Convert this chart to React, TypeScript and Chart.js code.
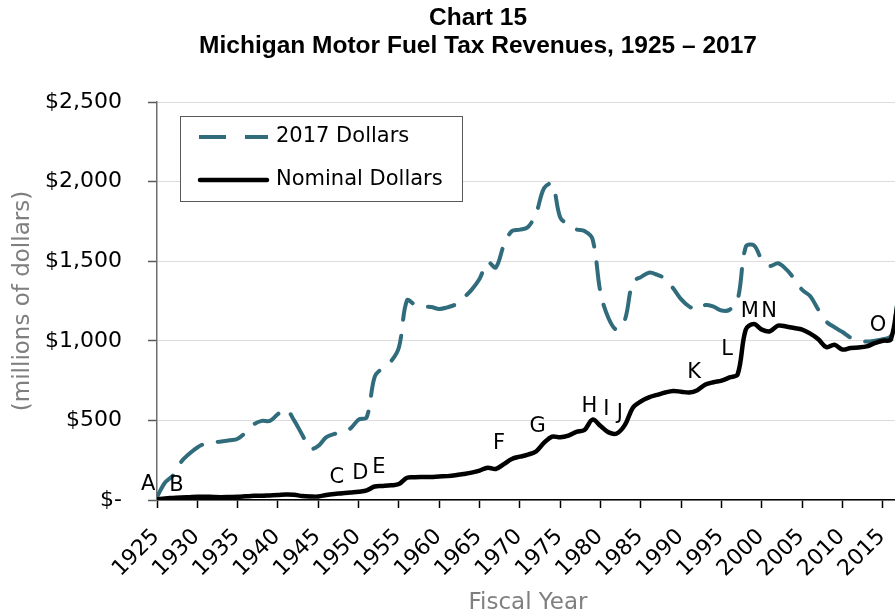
import React, { useEffect, useRef } from 'react';
import { Chart, registerables } from 'chart.js';

Chart.register(...registerables);

// ---------- data ----------
const years = [
  1925, 1926, 1927, 1928, 1929, 1930, 1931, 1932, 1933, 1934,
  1935, 1936, 1937, 1938, 1939, 1940, 1941, 1942, 1943, 1944,
  1945, 1946, 1947, 1948, 1949, 1950, 1951, 1952, 1953, 1954,
  1955, 1956, 1957, 1958, 1959, 1960, 1961, 1962, 1963, 1964,
  1965, 1966, 1967, 1968, 1969, 1970, 1971, 1972, 1973, 1974,
  1975, 1976, 1977, 1978, 1979, 1980, 1981, 1982, 1983, 1984,
  1985, 1986, 1987, 1988, 1989, 1990, 1991, 1992, 1993, 1994,
  1995, 1996, 1997, 1998, 1999, 2000, 2001, 2002, 2003, 2004,
  2005, 2006, 2007, 2008, 2009, 2010, 2011, 2012, 2013, 2014,
  2015, 2016, 2017,
];

// Nominal dollars (millions)
const nominalDollars = [
  5, 10, 13, 16, 18, 20, 21, 19, 18, 19,
  20, 23, 26, 27, 29, 31, 35, 33, 25, 22,
  22, 32, 38, 42, 47, 52, 60, 85, 88, 92,
  100, 140, 143, 144, 145, 148, 150, 155, 163, 172,
  185, 203, 195, 225, 258, 272, 285, 305, 360, 398,
  394, 405, 428, 440, 505, 465, 425, 418, 470, 580,
  620, 645, 660, 675, 685, 680, 675, 690, 725, 740,
  750, 770, 790, 1070, 1105, 1070, 1060, 1095, 1090, 1080,
  1070, 1045, 1010, 960, 975, 945, 955, 958, 965, 985,
  1000, 1010, 1300,
];

// 2017 dollars (millions)
const dollars2017 = [
  20, 110, 155, 240, 290, 330, 355, 362, 368, 375,
  385, 425, 475, 497, 497, 540, 570, 500, 410, 322,
  340, 395, 415, 425, 450, 505, 520, 775, 830, 870,
  960, 1255, 1225, 1215, 1212, 1200, 1210, 1228, 1270, 1320,
  1390, 1495, 1460, 1600, 1690, 1698, 1715, 1800, 1960, 1985,
  1775, 1730, 1700, 1690, 1640, 1300, 1140, 1070, 1130, 1370,
  1400, 1428, 1415, 1390, 1330, 1260, 1215, 1195, 1225, 1214,
  1190, 1195, 1260, 1590, 1600, 1510, 1470, 1487, 1450, 1390,
  1320, 1280, 1195, 1120, 1085, 1055, 1020, 1005, 995, 1000,
  1010, 1030, 1300,
];

const xTickYears = [
  1925, 1930, 1935, 1940, 1945, 1950, 1955, 1960, 1965, 1970,
  1975, 1980, 1985, 1990, 1995, 2000, 2005, 2010, 2015,
];
const yTickValues = [0, 500, 1000, 1500, 2000, 2500];

// Event markers (letter, year, value in millions)
const markerLabels = ['A', 'B', 'C', 'D', 'E', 'F', 'G', 'H', 'I', 'J', 'K', 'L', 'M', 'N', 'O'];
const markerYears = [1923.9, 1927.4, 1947.3, 1950.2, 1952.5, 1967.4, 1972.2, 1978.6, 1980.7, 1982.4, 1991.6, 1995.7, 1998.5, 2000.9, 2014.4];
const markerValues = [100, 88, 142, 168, 205, 352, 460, 586, 570, 545, 802, 946, 1183, 1183, 1095];

const titleLines = ['Chart 15', 'Michigan Motor Fuel Tax Revenues, 1925 \u2013 2017'];
const seriesNames = ['2017 Dollars', 'Nominal Dollars'];

const TEAL = '#306c7c';
const CANVAS_W = 956;
const CANVAS_H = 625;

const fmtMoney = (v: number) => (v === 0 ? '$-' : '$' + v.toLocaleString('en-US'));

const overlayPlugin = {
  id: 'overlay',
  afterDraw(chart: any) {
    const { ctx, chartArea, scales } = chart;
    ctx.save();

    // Title
    ctx.fillStyle = '#000';
    ctx.textAlign = 'center';
    ctx.textBaseline = 'alphabetic';
    ctx.font = 'bold 24.5px "Liberation Sans", Arial, sans-serif';
    titleLines.forEach((t, i) => ctx.fillText(t, chart.width / 2, 25 + i * 28));

    // Event letters
    ctx.font = '21px "DejaVu Sans", sans-serif';
    ctx.textBaseline = 'middle';
    markerLabels.forEach((l, i) => {
      ctx.fillText(l, scales.x.getPixelForValue(markerYears[i]), scales.y.getPixelForValue(markerValues[i]));
    });

    // Legend
    const lx = chartArea.left + 23;
    const ly = chartArea.top + 14;
    const lw = 282;
    const lh = 85;
    ctx.fillStyle = '#fff';
    ctx.fillRect(lx, ly, lw, lh);
    ctx.strokeStyle = '#595959';
    ctx.lineWidth = 1;
    ctx.strokeRect(lx + 0.5, ly + 0.5, lw, lh);

    const rows = [ly + 21, ly + 64];
    // dashed sample
    ctx.lineWidth = 4;
    ctx.lineCap = 'butt';
    ctx.strokeStyle = TEAL;
    ctx.setLineDash([27, 19]);
    ctx.beginPath();
    ctx.moveTo(lx + 19, rows[0]);
    ctx.lineTo(lx + 88, rows[0]);
    ctx.stroke();
    // solid sample
    ctx.setLineDash([]);
    ctx.strokeStyle = '#000';
    ctx.lineWidth = 4.5;
    ctx.lineCap = 'round';
    ctx.beginPath();
    ctx.moveTo(lx + 20, rows[1]);
    ctx.lineTo(lx + 87, rows[1]);
    ctx.stroke();

    ctx.fillStyle = '#000';
    ctx.textAlign = 'left';
    ctx.textBaseline = 'middle';
    ctx.font = '21px "DejaVu Sans", sans-serif';
    ctx.fillText(seriesNames[0], lx + 96, rows[0]);
    ctx.fillText(seriesNames[1], lx + 96, rows[1]);

    ctx.restore();
  },
};

export default function App() {
  const ref = useRef<HTMLCanvasElement>(null);

  useEffect(() => {
    Chart.defaults.font.family = '"DejaVu Sans", sans-serif';
    Chart.defaults.color = '#000';
    const chart = new Chart(ref.current as HTMLCanvasElement, {
      type: 'line',
      data: {
        datasets: [
          {
            label: seriesNames[1],
            data: years.map((y, i) => ({ x: y, y: nominalDollars[i] })),
            borderColor: '#000',
            borderWidth: 4.5,
            pointRadius: 0,
            tension: 0.35,
            fill: false,
            order: 0,
            borderCapStyle: 'round',
            borderJoinStyle: 'round',
          },
          {
            label: seriesNames[0],
            data: years.map((y, i) => ({ x: y, y: dollars2017[i] })),
            borderColor: TEAL,
            borderWidth: 4,
            borderDash: [27, 16],
            borderCapStyle: 'round',
            borderJoinStyle: 'round',
            pointRadius: 0,
            tension: 0.35,
            fill: false,
            order: 1,
          },
        ],
      },
      options: {
        responsive: false,
        animation: false,
        devicePixelRatio: 1,
        layout: { padding: { top: 102, right: CANVAS_W - 899, left: 0, bottom: 0 } },
        plugins: {
          legend: { display: false },
          tooltip: { enabled: false },
          title: { display: false },
        },
        scales: {
          x: {
            type: 'linear',
            min: years[0],
            max: years[years.length - 1],
            afterBuildTicks: (s: any) => {
              s.ticks = xTickYears.map((v) => ({ value: v }));
            },
            afterFit: (s: any) => {
              s.height = CANVAS_H - 500;
            },
            ticks: {
              callback: (v: any) => String(v),
              autoSkip: false,
              maxRotation: 45,
              minRotation: 45,
              font: { size: 22 },
              color: '#000',
              padding: 16,
              labelOffset: -1,
            },
            grid: {
              drawOnChartArea: false,
              drawTicks: true,
              tickLength: 8,
              tickColor: '#000',
              tickWidth: 1.5,
            },
            border: { color: '#000', width: 1.5 },
            title: {
              display: true,
              text: 'Fiscal Year',
              color: '#7f7f7f',
              font: { size: 23 },
              padding: { top: 0, bottom: 8 },
            },
          },
          y: {
            min: 0,
            max: 2500,
            afterBuildTicks: (s: any) => {
              s.ticks = yTickValues.map((v) => ({ value: v }));
            },
            afterFit: (s: any) => {
              s.width = 157;
            },
            ticks: {
              callback: (v: any) => fmtMoney(Number(v)),
              font: { size: 22 },
              color: '#000',
              padding: 26,
            },
            grid: {
              color: '#b8b8b8',
              lineWidth: 1,
              tickLength: 9,
              tickColor: '#595959',
              tickWidth: 1.5,
              tickBorderDash: [],
            },
            border: { color: '#6e6e6e', width: 1.5, dash: [1, 1] },
            title: {
              display: true,
              text: '(millions of dollars)',
              color: '#7f7f7f',
              font: { size: 23 },
              padding: { top: 9, bottom: 0 },
            },
          },
        },
      },
      plugins: [overlayPlugin],
    } as any);
    return () => chart.destroy();
  }, []);

  return (
    <div
      style={{
        position: 'fixed',
        left: 0,
        top: 0,
        width: 895,
        height: 615,
        overflow: 'hidden',
        background: '#fff',
      }}
    >
      <canvas
        ref={ref}
        width={CANVAS_W}
        height={CANVAS_H}
        style={{ display: 'block', width: CANVAS_W, height: CANVAS_H }}
      />
    </div>
  );
}
